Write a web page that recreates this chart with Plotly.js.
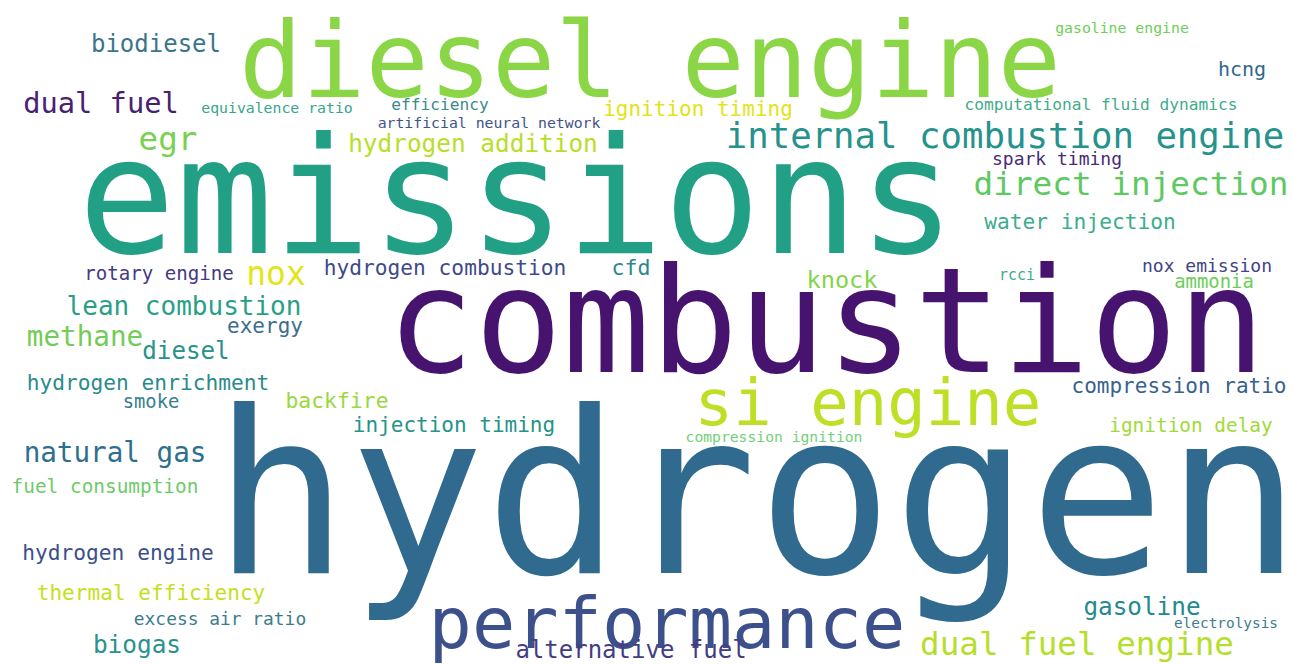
<!DOCTYPE html>
<html>
<head>
<meta charset="utf-8">
<script src="https://cdn.plot.ly/plotly-3.0.1.min.js"></script>
<style>html,body{margin:0;padding:0;background:#fff;}#chart{width:1292px;height:664px;}</style>
</head>
<body>
<div id="chart"></div>
<script>
// Word cloud terms
const words = [
  "hydrogen","emissions","combustion","diesel engine","performance","si engine",
  "internal combustion engine","direct injection","dual fuel engine","dual fuel","biodiesel","egr",
  "hydrogen addition","ignition timing","efficiency","artificial neural network","equivalence ratio","gasoline engine",
  "hcng","computational fluid dynamics","spark timing","water injection","nox","rotary engine",
  "hydrogen combustion","cfd","knock","rcci","nox emission","ammonia",
  "lean combustion","exergy","methane","diesel","hydrogen enrichment","smoke",
  "backfire","injection timing","compression ignition","compression ratio","ignition delay","natural gas",
  "fuel consumption","hydrogen engine","thermal efficiency","excess air ratio","biogas","alternative fuel",
  "gasoline","electrolysis"
];
// Relative weight shown as font size (px)
const weights = [
  226,162,146,105,72,64,
  35.7,32.7,32.6,28.7,24,32.6,
  24.4,21,16.2,14.8,14.8,14.8,
  20,16.2,18,21.2,33,19.1,
  21.2,21.6,23.6,15,18,18.9,
  26,21,27.6,24.2,21.2,18.8,
  21.4,21,14.7,21,19.4,27.6,
  19.4,21.2,21.1,17.9,24.4,24,
  24.3,14.4
];
// Word centre (x) and baseline (y) in canvas units
const xs = [
  757,517,826,650,667,868,
  1005,1131,1077,101,156,168,
  473,698,440,489,277,1122,
  1242,1101,1057,1080,276,159,
  445,631,842,1017,1207,1214,
  184,265,85,186,148,151,
  337,454,774,1179,1191,115,
  105,118,151,220,137,631,
  1142,1226
];
const ys = [
  573,253,372,97,648,425,
  148,195,655,113,52,150,
  152,116,110,128,113,33,
  76,110,165,229,285,280,
  275,275,288,280,272,288,
  315,333,346,359,390,408,
  408,432,442,393,432,462,
  493,560,600,625,653,658,
  615,628
];
const colors = [
  "#306a8e","#22a085","#46136e","#8bd646","#3c508b","#bddf26",
  "#26928c","#5ec962","#b5de2b","#482173","#3b758c","#7ad151",
  "#b8de29","#e2e418","#3a8a8c","#3f5489","#37a58c","#6ece58",
  "#31688e","#3fac8c","#472a7a","#3bad8d","#e5e419","#443983",
  "#3f4a89","#2c8a8c","#84d44b","#3fa98f","#414487","#6ccd5a",
  "#2a9f87","#3e6e8c","#74cc58","#279389","#2b8b8c","#34808e",
  "#9ad83e","#26938b","#73d07a","#38628d","#a0da39","#2e6f8e",
  "#6fca6b","#3c4f8a","#c5e021","#3b7c8c","#2a918b","#433d84",
  "#23898e","#3e7c8c"
];

// Plotly's "middle" text anchor puts the baseline 0.25em below the point
const yAnchor = ys.map((b, i) => b - 0.25 * weights[i]);

const trace = {
  type: "scatter",
  mode: "text",
  x: xs,
  y: yAnchor,
  text: words,
  textposition: "middle center",
  textfont: {family: "DejaVu Sans Mono, monospace", size: weights, color: colors},
  hoverinfo: "skip",
  cliponaxis: false
};

const layout = {
  width: 1292, height: 664,
  margin: {l: 0, r: 0, t: 0, b: 0},
  paper_bgcolor: "#ffffff", plot_bgcolor: "#ffffff",
  showlegend: false,
  xaxis: {range: [0, 1292], visible: false, fixedrange: true},
  yaxis: {range: [664, 0], visible: false, fixedrange: true},
  hovermode: false
};

Plotly.newPlot("chart", [trace], layout, {staticPlot: true, displayModeBar: false});
</script>
</body>
</html>
